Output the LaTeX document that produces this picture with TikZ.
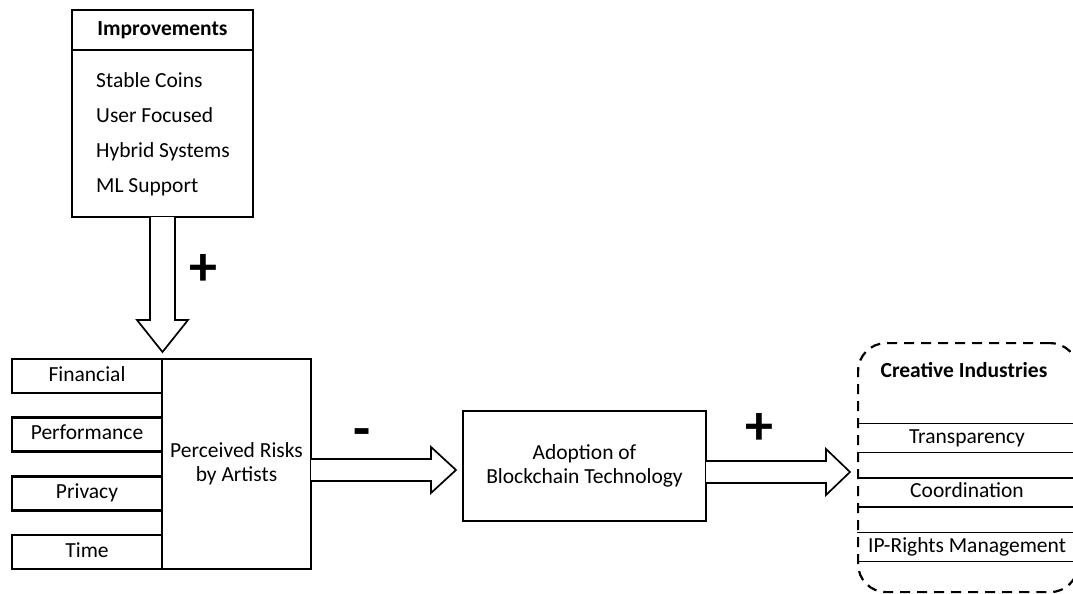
\documentclass[tikz,border=0pt]{standalone}
\usepackage{fontspec}
\setmainfont{Carlito}
\usetikzlibrary{positioning}

\tikzset{
  box/.style={draw, line width=2.4pt, inner sep=0pt, outer sep=0pt, align=center},
  riskbox/.style={box, minimum width=150, minimum height=34, text height=14pt, text depth=4pt},
  band/.style={minimum width=220, minimum height=29, anchor=west, inner sep=0pt, outer sep=0pt, text height=14pt, text depth=4pt},
  hollow/.style={draw, line width=1.7pt, fill=white, line join=miter},
  sign/.style={font=\fontsize{56}{56}\selectfont\bfseries, inner sep=0pt},
}

\begin{document}
\begin{tikzpicture}[x=1pt,y=-1pt,font=\fontsize{21.5}{24}\selectfont]
  \useasboundingbox (0,0) rectangle (1073,594);

  \begin{scope}
    \node[box, minimum width=181, minimum height=40] (imphead) at (162.5,30) {\bfseries Improvements};
    \node[box, minimum width=181, minimum height=167, anchor=north] (impbody) at (imphead.south) {};
    \foreach[count=\i] \n in {Stable Coins,User Focused,Hybrid Systems,ML Support} {
      \node[anchor=base west, inner sep=0pt] (imp\i) at (96,{52+\i*35}) {\n};
    }

    \draw[hollow] ([xshift=-12.5pt]impbody.south) -- ++(0,103) -- ++(-13,0) -- ++(25.5,32) -- ++(25.5,-32) -- ++(-13,0) -- ++(0,-103);
    \node[sign] (plusimp) at (203,270) {+};
  \end{scope}

  \begin{scope}
    \node[box, minimum width=149, minimum height=210] (risk) at (236.5,464) {Perceived Risks\\by Artists};
    \foreach[count=\i] \n in {Financial,Performance,Privacy,Time} {
      \node[riskbox] (risk\i) at (87,{376+(\i-1)*58.67}) {\n};
    }

    \draw[hollow] ([yshift=5pt]risk.east) -- ++(120,0) -- ++(0,-12) -- ++(25,23) -- ++(-25,23) -- ++(0,-12) -- ++(-120,0);
    \node[sign] (minus) at (362,438) {-};
  \end{scope}

  \begin{scope}
    \node[box, minimum width=243, minimum height=110] (adopt) at (584.5,466) {Adoption of\\Blockchain Technology};

    \draw[hollow] ([yshift=5pt]adopt.east) -- ++(120,0) -- ++(0,-12) -- ++(24,23) -- ++(-24,23) -- ++(0,-12) -- ++(-120,0);
    \node[sign] (plusadopt) at (759,429) {+};
  \end{scope}

  \begin{scope}
    \node[draw, line width=2.2pt, dash pattern=on 10pt off 7pt, rounded corners=28pt, minimum width=220, minimum height=249, anchor=north west, inner sep=0pt] (ci) at (857,342) {};
    \node (cititle) at (964,370) {\bfseries Creative Industries};
    \foreach[count=\i] \n in {Transparency,Coordination,IP-Rights Management} {
      \node[band] (ci\i) at (857,{438+(\i-1)*54.5}) {\n};
      \draw[line width=1.8pt] (ci\i.north west) -- (ci\i.north east) (ci\i.south west) -- (ci\i.south east);
    }
  \end{scope}
\end{tikzpicture}
\end{document}
